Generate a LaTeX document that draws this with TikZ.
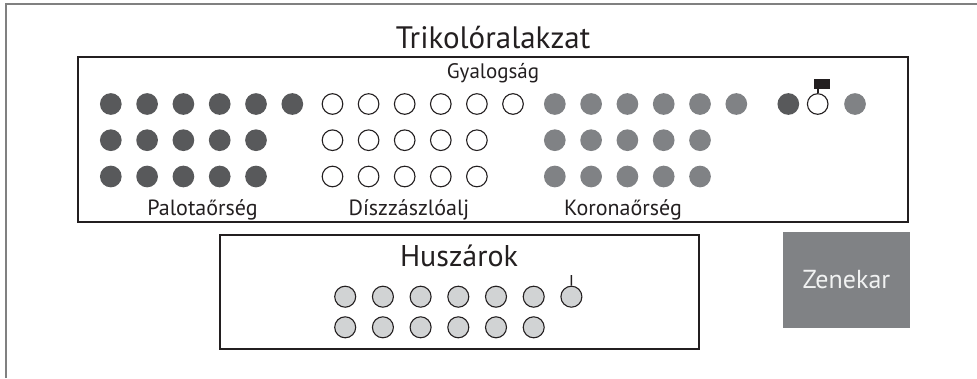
\documentclass[tikz,border=0pt]{standalone}
\usepackage{fontspec}
\setmainfont{PT Sans}
\definecolor{darkc}{HTML}{58595B}
\definecolor{grayc}{HTML}{808285}
\definecolor{lightc}{HTML}{D1D3D4}
\definecolor{framec}{HTML}{808080}
\definecolor{inkc}{HTML}{231F20}
\definecolor{paperc}{HTML}{F1F2F2}
\begin{document}
\begin{tikzpicture}[x=1pt,y=-1pt,
  soldier/.style={circle,minimum size=21.7pt,inner sep=0pt},
  darkman/.style={soldier,fill=darkc},
  grayman/.style={soldier,fill=grayc},
  whiteman/.style={soldier,draw=inkc,line width=1.1pt,fill=white,minimum size=20.6pt},
  hussar/.style={soldier,draw=inkc,line width=1.1pt,fill=lightc,minimum size=21pt},
  unitbox/.style={draw=inkc,line width=2pt,inner sep=0pt},
  lbl/.style={font=\fontsize{22}{26}\selectfont,anchor=base,inner sep=0pt,text=inkc},
  bigtxt/.style={font=\fontsize{31}{36}\selectfont,anchor=base,inner sep=0pt,text=inkc},
  pole/.style={draw=inkc,line width=1.6pt},
]
\useasboundingbox (0,0) rectangle (977,378);
% outer frame (partly visible)
\draw[framec,line width=1.3pt] (6,378) -- (6,4) -- (977,4);

% boxes
\node[unitbox,minimum width=830pt,minimum height=165pt] (trikolor) at (493,139.5) {};
\node[unitbox,minimum width=478.5pt,minimum height=114.5pt] (huszarbox) at (459.25,291.75) {};
\node[fill=grayc,minimum width=127.3pt,minimum height=95.4pt,inner sep=0pt,
      font=\fontsize{26}{30}\selectfont,text=paperc] (zenekar) at (846.4,280) {Zenekar};

% titles and labels
\node[bigtxt] (title) at (493,48.3) {Trikolóralakzat};
\node[lbl,font=\fontsize{21}{25}\selectfont] (gyalog) at (493,78.3) {Gyalogság};
\node[lbl] (palota) at (202.5,215.5) {Palotaőrség};
\node[lbl] (disz) at (409,215.5) {Díszzászlóalj};
\node[lbl] (korona) at (623,215.5) {Koronaőrség};
\node[bigtxt,font=\fontsize{30}{35}\selectfont] (huszar) at (459,266.7) {Huszárok};

% Palotaőrség (dark)
\foreach \x [count=\i] in {110.8,147.1,183.4,219.7,256,292.3}
  \node[darkman] (pa1-\i) at (\x,104) {};
\foreach \x [count=\i] in {110.8,147.1,183.4,219.7,256}{
  \node[darkman] (pa2-\i) at (\x,140.2) {};
  \node[darkman] (pa3-\i) at (\x,176.5) {};}

% Díszzászlóalj (white)
\foreach \x [count=\i] in {332.5,368.6,404.7,440.8,476.9,513}
  \node[whiteman] (di1-\i) at (\x,104) {};
\foreach \x [count=\i] in {332.5,368.6,404.7,440.8,476.9}{
  \node[whiteman] (di2-\i) at (\x,140.2) {};
  \node[whiteman] (di3-\i) at (\x,176.5) {};}

% Koronaőrség (gray)
\foreach \x [count=\i] in {554.8,591.1,627.4,663.7,700,736.3}
  \node[grayman] (ko1-\i) at (\x,104) {};
\foreach \x [count=\i] in {554.8,591.1,627.4,663.7,700}{
  \node[grayman] (ko2-\i) at (\x,140.2) {};
  \node[grayman] (ko3-\i) at (\x,176.5) {};}

% flag group
\node[darkman] (fdark) at (788.3,104) {};
\node[whiteman] (fwhite) at (817.7,104) {};
\node[grayman] (fgray) at (855,104) {};
\coordinate (flagfoot) at (817.7,88);
\draw[pole] (fwhite.north) -- (flagfoot);
\fill[inkc] (814.2,78.5) rectangle (830.2,88.5);

% Huszárok
\foreach \i in {0,...,6}
  \node[hussar] (hu1-\i) at ({345.2+37.7*\i},296.7) {};
\foreach \i in {0,...,5}
  \node[hussar] (hu2-\i) at ({345.2+37.7*\i},327.3) {};
\coordinate (hpoletop) at (571.4,275);
\draw[pole] (hu1-6.north) -- (hpoletop);
\end{tikzpicture}
\end{document}
